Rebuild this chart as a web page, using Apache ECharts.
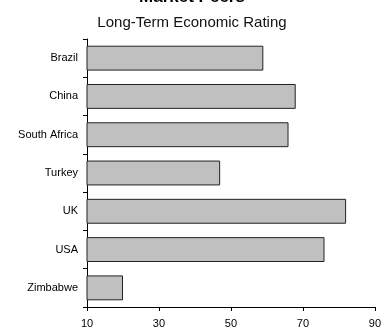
<!DOCTYPE html>
<html>
<head>
<meta charset="utf-8">
<script src="https://cdn.jsdelivr.net/npm/echarts@6/dist/echarts.min.js"></script>
<style>
  html, body { margin: 0; padding: 0; background: #fff; }
  #chart { width: 384px; height: 329px; }
</style>
</head>
<body>
<div id="chart"></div>
<script>
// Long-term economic rating for each peer market
var countries = ['Brazil', 'China', 'South Africa', 'Turkey', 'UK', 'USA', 'Zimbabwe'];
var ratings = [59, 68, 66, 47, 82, 76, 20];
var axisMin = 10;
var axisMax = 90;
var axisStep = 20;

var chart = echarts.init(document.getElementById('chart'), null, { renderer: 'canvas' });
chart.setOption({
  animation: false,
  backgroundColor: '#ffffff',
  textStyle: { fontFamily: 'Liberation Sans, Arial, sans-serif' },
  title: [
    {
      text: 'Market Peers',
      left: 'center',
      top: -16,
      textStyle: { fontSize: 17, fontWeight: 'bold', color: '#000', fontFamily: 'Liberation Sans, Arial, sans-serif' }
    },
    {
      text: 'Long-Term Economic Rating',
      left: 'center',
      top: 10,
      textStyle: { fontSize: 15, fontWeight: 'normal', color: '#111', fontFamily: 'Liberation Sans, Arial, sans-serif' }
    }
  ],
  grid: { left: 87, right: 4, top: 39, bottom: 20, containLabel: false },
  xAxis: {
    type: 'value',
    min: axisMin,
    max: axisMax,
    interval: axisStep,
    axisLine: { show: true, lineStyle: { color: '#000', width: 1 } },
    axisTick: { show: true, length: 4, lineStyle: { color: '#000' } },
    splitLine: { show: false },
    axisLabel: { fontSize: 11, color: '#000', margin: 11, fontFamily: 'Liberation Sans, Arial, sans-serif' }
  },
  yAxis: {
    type: 'category',
    data: countries,
    inverse: true,
    axisLine: { show: true, lineStyle: { color: '#000', width: 1 } },
    axisTick: { show: true, length: 4, alignWithLabel: false, lineStyle: { color: '#000' } },
    axisLabel: { fontSize: 11, color: '#000', margin: 9, fontFamily: 'Liberation Sans, Arial, sans-serif' }
  },
  series: [{
    type: 'bar',
    data: ratings,
    barCategoryGap: '35%',
    itemStyle: { color: '#c0c0c0', borderColor: '#222', borderWidth: 1 }
  }]
});
</script>
</body>
</html>
